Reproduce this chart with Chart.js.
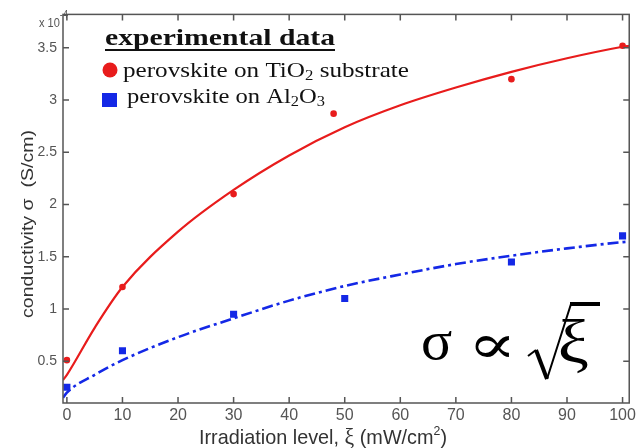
<!DOCTYPE html>
<html>
<head>
<meta charset="utf-8">
<script src="https://cdn.jsdelivr.net/npm/chart.js@4.4.1/dist/chart.umd.min.js"></script>
<style>
  body { margin: 0; background: #fff; }
  canvas { display: block; }
</style>
</head>
<body>
<canvas id="chart" width="639" height="448"></canvas>
<script>
// tick labels
const xTicks = [0, 10, 20, 30, 40, 50, 60, 70, 80, 90, 100];
const yTicks = [0.5, 1, 1.5, 2, 2.5, 3, 3.5];

// measured points (x 10^-4 S/cm)
const tiO2X = [0, 10, 30, 48, 80, 100];
const tiO2Y = [0.51, 1.21, 2.10, 2.87, 3.20, 3.52];
const al2O3X = [0, 10, 30, 50, 80, 100];
const al2O3Y = [0.25, 0.60, 0.95, 1.10, 1.45, 1.70];

// fit curves
const fitX = [-0.7, 0, 5, 10, 20, 30, 40, 50, 60, 70, 80, 90, 100, 101.2];
const tiO2Fit = [0.32, 0.37, 0.82, 1.21, 1.74, 2.14, 2.47, 2.74, 2.95, 3.12, 3.27, 3.40, 3.51, 3.52];
const al2O3Fit = [0.15, 0.20, 0.37, 0.51, 0.73, 0.91, 1.08, 1.22, 1.33, 1.43, 1.51, 1.58, 1.64, 1.645];

const RED = "#e81c1c";
const BLUE = "#1428e6";

const pts = (xs, ys) => xs.map((x, i) => ({ x: x, y: ys[i] }));

// draw a row of text pieces, squeezed/stretched to a target width
function drawRuns(ctx, runs, x, y, targetW) {
    let total = 0;
    runs.forEach(r => { ctx.font = r.font; total += ctx.measureText(r.t).width; });
    const s = targetW / total;
    ctx.save();
    ctx.translate(x, y);
    ctx.scale(s, 1);
    let cx = 0;
    runs.forEach(r => {
        ctx.font = r.font;
        ctx.fillText(r.t, cx, r.dy || 0);
        cx += ctx.measureText(r.t).width;
    });
    ctx.restore();
}

// fit one glyph into a box (ink bounds)
function drawGlyph(ctx, t, font, l, tp, r, b) {
    ctx.font = font;
    const m = ctx.measureText(t);
    const w = m.actualBoundingBoxLeft + m.actualBoundingBoxRight;
    const h = m.actualBoundingBoxAscent + m.actualBoundingBoxDescent;
    const sx = (r - l) / w, sy = (b - tp) / h;
    ctx.save();
    ctx.translate(l + m.actualBoundingBoxLeft * sx, tp + m.actualBoundingBoxAscent * sy);
    ctx.scale(sx, sy);
    ctx.fillText(t, 0, 0);
    ctx.restore();
}

// ✅ Inward ticks, box, legend and labels
const decorations = {
    id: "decorations",
    afterDraw(chart) {
        const ctx = chart.ctx;
        const a = chart.chartArea;
        const xs = chart.scales.x, ys = chart.scales.y;

        ctx.save();
        ctx.strokeStyle = "#555";
        ctx.lineWidth = 1.5;
        ctx.strokeRect(a.left, a.top, a.right - a.left, a.bottom - a.top);
        ctx.beginPath();
        xTicks.forEach(v => {
            const px = xs.getPixelForValue(v);
            ctx.moveTo(px, a.bottom); ctx.lineTo(px, a.bottom - 6);
            ctx.moveTo(px, a.top); ctx.lineTo(px, a.top + 6);
        });
        yTicks.forEach(v => {
            const py = ys.getPixelForValue(v);
            ctx.moveTo(a.left, py); ctx.lineTo(a.left + 6, py);
            ctx.moveTo(a.right, py); ctx.lineTo(a.right - 6, py);
        });
        ctx.stroke();

        ctx.textBaseline = "alphabetic";
        ctx.textAlign = "left";

        // x 10^-4
        ctx.fillStyle = "#555";
        drawRuns(ctx, [
            { t: "x 10", font: "12px 'Liberation Sans'" },
            { t: "-4", font: "10px 'Liberation Sans'", dy: -9 }
        ], 39, 27, 29);

        // axis titles
        ctx.fillStyle = "#333";
        drawRuns(ctx, [
            { t: "Irradiation level, ", font: "21px 'Liberation Sans Narrow', 'Liberation Sans'" },
            { t: "ξ", font: "23px 'Liberation Serif'" },
            { t: " (mW/cm", font: "21px 'Liberation Sans Narrow', 'Liberation Sans'" },
            { t: "2", font: "13px 'Liberation Sans'", dy: -9 },
            { t: ")", font: "21px 'Liberation Sans Narrow', 'Liberation Sans'" }
        ], 199, 444, 248);

        ctx.save();
        ctx.translate(33, 318);
        ctx.rotate(-Math.PI / 2);
        drawRuns(ctx, [{ t: "conductivity σ  (S/cm)", font: "17px 'Liberation Sans'" }], 0, 0, 188);
        ctx.restore();

        // legend block
        ctx.fillStyle = "#111";
        drawRuns(ctx, [{ t: "experimental data", font: "bold 24px 'Liberation Serif'" }], 105, 45, 230);
        ctx.fillRect(105, 49, 230, 2);

        ctx.fillStyle = RED;
        ctx.beginPath();
        ctx.arc(110, 70, 7.5, 0, Math.PI * 2);
        ctx.fill();
        ctx.fillStyle = BLUE;
        ctx.fillRect(102, 93, 15, 14);

        ctx.fillStyle = "#111";
        const f = "21px 'Liberation Serif'", fs = "14px 'Liberation Serif'";
        drawRuns(ctx, [
            { t: "perovskite on TiO", font: f },
            { t: "2", font: fs, dy: 3 },
            { t: " substrate", font: f }
        ], 123, 77, 286);
        drawRuns(ctx, [
            { t: "perovskite on Al", font: f },
            { t: "2", font: fs, dy: 3 },
            { t: "O", font: f },
            { t: "3", font: fs, dy: 3 }
        ], 127, 103, 198);

        // sigma ∝ sqrt(xi)
        ctx.fillStyle = "#000";
        drawGlyph(ctx, "σ", "60px 'Liberation Serif'", 423, 332, 452, 360);
        drawGlyph(ctx, "∝", "60px 'DejaVu Serif'", 475, 335, 510, 357);
        drawGlyph(ctx, "ξ", "60px 'Liberation Serif'", 560, 318, 588, 373);
        ctx.strokeStyle = "#000";
        ctx.lineJoin = "miter";
        ctx.lineWidth = 2;
        ctx.beginPath();
        ctx.moveTo(528, 356); ctx.lineTo(536, 350);
        ctx.stroke();
        ctx.lineWidth = 4;
        ctx.beginPath();
        ctx.moveTo(536, 350); ctx.lineTo(547, 379);
        ctx.stroke();
        ctx.lineWidth = 2;
        ctx.beginPath();
        ctx.moveTo(547, 379); ctx.lineTo(571, 304); ctx.lineTo(600, 304);
        ctx.stroke();
        ctx.lineWidth = 4;
        ctx.beginPath();
        ctx.moveTo(570, 304); ctx.lineTo(600, 304);
        ctx.stroke();
        ctx.restore();
    }
};

new Chart(document.getElementById("chart"), {
    type: "scatter",
    data: {
        datasets: [
            {
                data: pts(fitX, tiO2Fit),
                showLine: true, borderColor: RED, borderWidth: 2.2,
                pointRadius: 0, cubicInterpolationMode: "monotone"
            },
            {
                data: pts(fitX, al2O3Fit),
                showLine: true, borderColor: BLUE, borderWidth: 2.6,
                borderDash: [11, 4, 3, 4],
                pointRadius: 0, cubicInterpolationMode: "monotone"
            },
            {
                data: pts(tiO2X, tiO2Y),
                pointStyle: "circle", pointRadius: 3.3,
                backgroundColor: RED, borderColor: RED, borderWidth: 0
            },
            {
                data: pts(al2O3X, al2O3Y),
                pointStyle: "rect", pointRadius: 5,
                backgroundColor: BLUE, borderColor: BLUE, borderWidth: 0
            }
        ]
    },
    options: {
        responsive: false,
        animation: false,
        layout: { padding: { top: 10, right: 7, left: 0, bottom: 0 } },
        plugins: { legend: { display: false }, tooltip: { enabled: false } },
        scales: {
            x: {
                type: "linear", min: -0.7, max: 101.2,
                afterBuildTicks: s => { s.ticks = xTicks.map(v => ({ value: v })); },
                afterFit: s => { s.height = 45; },
                grid: { display: false, drawTicks: false },
                border: { display: false },
                ticks: {
                    color: "#555", padding: 3,
                    font: { family: "'Liberation Sans Narrow', 'Liberation Sans'", size: 16 },
                    maxRotation: 0, autoSkip: false
                }
            },
            y: {
                type: "linear", min: 0.1, max: 3.82,
                afterBuildTicks: s => { s.ticks = yTicks.map(v => ({ value: v })); },
                afterFit: s => { s.width = 63; },
                grid: { display: false, drawTicks: false },
                border: { display: false },
                ticks: {
                    color: "#555", padding: 6,
                    font: { family: "'Liberation Sans'", size: 14 },
                    callback: v => String(v)
                }
            }
        }
    },
    plugins: [decorations]
});
</script>
</body>
</html>
